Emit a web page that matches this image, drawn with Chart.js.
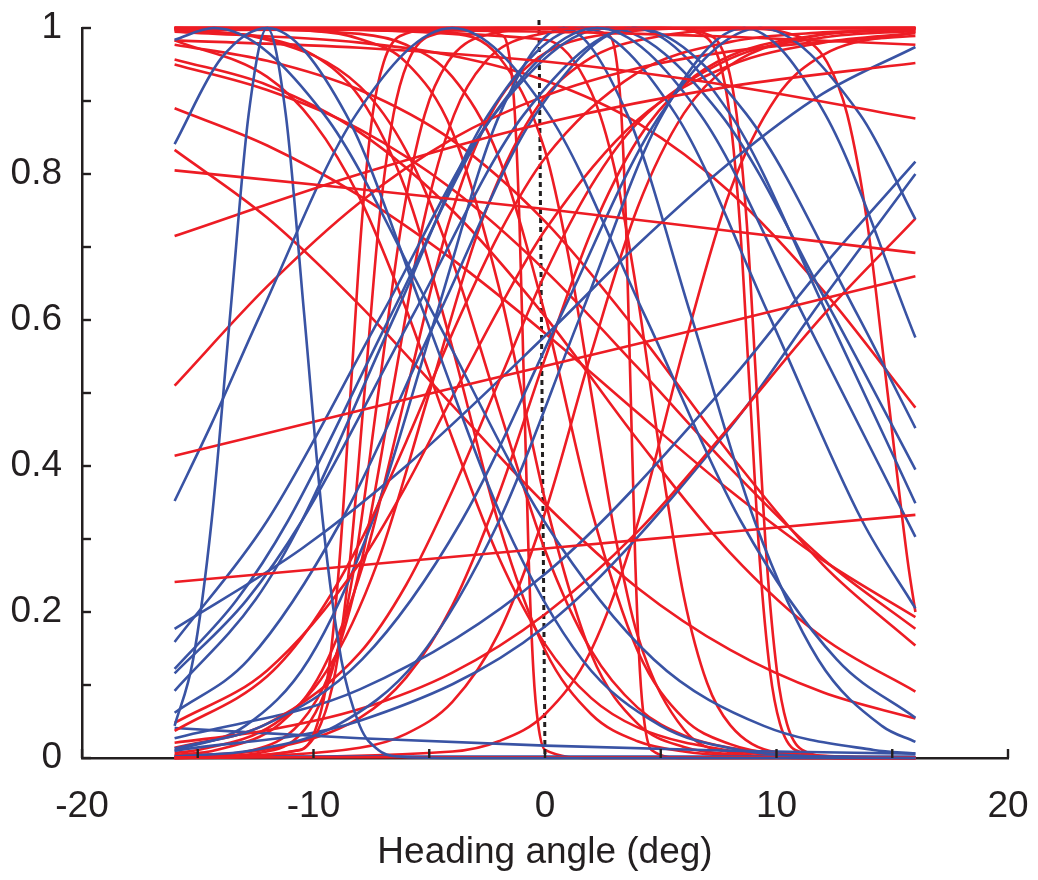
<!DOCTYPE html>
<html>
<head>
<meta charset="utf-8">
<script src="https://cdn.jsdelivr.net/npm/chart.js@4.4.1/dist/chart.umd.min.js"></script>
<style>
  html, body { margin: 0; padding: 0; background: #fff; }
</style>
</head>
<body>
<canvas id="headingChart" width="1038" height="880"></canvas>
<script>
// Tuning curves, [heading angle, response] pairs

// red: nearly straight / very shallow curves
const redDrift = [
  [[-16,0.805],[-8,0.779],[0,0.752],[8,0.722],[16,0.692]],
  [[-16,0.241],[-8,0.264],[0,0.287],[8,0.31],[16,0.333]],
  [[-16,0.414],[-8,0.476],[0,0.537],[8,0.598],[16,0.66]],
  [[-16,0.715],[-8,0.80],[0,0.87],[8,0.92],[16,0.952]],
  [[-16,0.983],[-8,0.973],[0,0.954],[8,0.921],[16,0.876]],
  [[-16,0.997],[0,0.999],[16,1]],
  [[-16,0.999],[0,0.995],[8,0.988],[16,0.977]],
  [[-16,0.001],[16,0.001]]
];

// red: rising sigmoids
const redRise = [
  [[-16,0.51],[-12,0.646],[-8,0.761],[-4,0.848],[0,0.907],[4,0.945],[8,0.968],[12,0.981],[16,0.989]],
  [[-16,0.021],[-12,0.038],[-8,0.067],[-4,0.117],[0,0.197],[4,0.31],[8,0.455],[12,0.606],[16,0.739]],
  [[-16,0.037],[-12,0.112],[-10,0.187],[-8,0.295],[-6,0.433],[-4,0.582],[-2,0.717],[0,0.822],[4,0.939],[8,0.981],[12,0.994],[16,0.998]],
  [[-16,0.048],[-12,0.12],[-8,0.267],[-6,0.373],[-4,0.495],[-2,0.615],[0,0.723],[4,0.874],[8,0.949],[12,0.98],[16,0.993]],
  [[-16,0.014],[-12,0.047],[-8,0.144],[-6,0.237],[-4,0.366],[-2,0.515],[0,0.663],[2,0.784],[4,0.87],[8,0.958],[12,0.987],[16,0.996]],
  [[-16,0],[-10.54,0.011],[-9.83,0.047],[-9.35,0.119],[-8.88,0.269],[-8.4,0.5],[-7.92,0.731],[-7.45,0.881],[-6.97,0.953],[-6.26,0.989],[-4,1],[16,1]],
  [[-16,0],[-10.61,0.011],[-9.68,0.047],[-9.05,0.119],[-8.43,0.269],[-7.8,0.5],[-7.18,0.731],[-6.55,0.881],[-5.93,0.953],[-4.99,0.989],[-2,1],[16,1]],
  [[-16,0],[-11.7,0.011],[-10.2,0.047],[-9.2,0.119],[-8.2,0.269],[-7.2,0.5],[-6.2,0.731],[-5.2,0.881],[-4.2,0.953],[-2.7,0.989],[1,1],[16,1]],
  [[-16,0.001],[-12.6,0.011],[-10.6,0.047],[-9.27,0.119],[-7.93,0.269],[-6.6,0.5],[-5.27,0.731],[-3.93,0.881],[-2.6,0.953],[-0.6,0.989],[4,1],[16,1]],
  [[-16,0.004],[-14.2,0.011],[-11.45,0.047],[-9.64,0.119],[-7.82,0.269],[-6,0.5],[-4.18,0.731],[-2.36,0.881],[-0.55,0.953],[2.18,0.989],[8,1],[16,1]],
  [[-16,0.007],[-15,0.011],[-11.67,0.047],[-9.44,0.119],[-7.22,0.269],[-5,0.5],[-2.78,0.731],[-0.56,0.881],[1.67,0.953],[5,0.989],[10,0.999],[16,1]],
  [[-16,0.003],[-12,0.012],[-8,0.055],[-6,0.11],[-4,0.209],[-2,0.361],[0,0.547],[2,0.721],[4,0.847],[6,0.922],[8,0.962],[12,0.991],[16,0.997]],
  [[-16,0],[-8,0.014],[-6,0.033],[-4,0.077],[-2,0.171],[0,0.336],[2,0.555],[4,0.754],[6,0.883],[8,0.949],[12,0.991],[16,0.999]],
  [[-16,0],[-4,0.009],[-2,0.023],[0,0.06],[2,0.148],[4,0.321],[6,0.562],[8,0.777],[10,0.905],[12,0.963],[16,0.995]]
];

// red: falling sigmoids
const redFall = [
  [[-16,0.833],[-12,0.74],[-8,0.62],[-4,0.483],[0,0.348],[4,0.233],[8,0.148],[12,0.09],[16,0.054]],
  [[-16,0.89],[-12,0.839],[-8,0.77],[-4,0.683],[0,0.582],[4,0.473],[8,0.366],[12,0.271],[16,0.193]],
  [[-16,1],[-4,1],[-1.8,0.989],[-1.5,0.953],[-1.3,0.881],[-1.1,0.731],[-0.9,0.5],[-0.7,0.269],[-0.5,0.119],[-0.3,0.047],[0,0.011],[2,0],[16,0]],
  [[-16,1],[1,1],[2.8,0.989],[3.1,0.953],[3.3,0.881],[3.5,0.731],[3.7,0.5],[3.9,0.269],[4.1,0.119],[4.3,0.047],[4.6,0.011],[6,0],[16,0]],
  [[-16,1],[5,1],[6.89,0.989],[7.55,0.953],[7.98,0.881],[8.42,0.731],[8.85,0.5],[9.28,0.269],[9.72,0.119],[10.15,0.047],[10.81,0.011],[13,0],[16,0]],
  [[-16,1],[5,1],[7.19,0.989],[7.85,0.953],[8.28,0.881],[8.72,0.731],[9.15,0.5],[9.58,0.269],[10.02,0.119],[10.45,0.047],[11.11,0.011],[13,0],[16,0]],
  [[-16,1],[8,1],[10.89,0.989],[12.19,0.953],[13.06,0.881],[13.93,0.731],[14.8,0.5],[15.67,0.269],[16,0.2]],
  [[-16,0.995],[-8,0.98],[-4,0.962],[0,0.928],[4,0.87],[8,0.775],[12,0.641],[16,0.48]],
  [[-16,0.977],[-12,0.955],[-8,0.915],[-4,0.846],[0,0.735],[4,0.584],[8,0.416],[12,0.265],[16,0.154]],
  [[-16,0.95],[-12,0.915],[-8,0.861],[-4,0.779],[0,0.668],[4,0.535],[8,0.397],[12,0.273],[16,0.177]],
  [[-16,0.957],[-12,0.922],[-8,0.857],[-4,0.75],[0,0.605],[4,0.436],[8,0.281],[12,0.165],[16,0.091]],
  [[-16,0.983],[-12,0.933],[-10,0.871],[-8,0.767],[-6,0.615],[-4,0.438],[-2,0.275],[0,0.156],[2,0.082],[4,0.042],[8,0.01],[12,0.002],[16,0]],
  [[-16,0.998],[-12,0.986],[-10,0.963],[-8,0.905],[-6,0.777],[-4,0.562],[-2,0.321],[0,0.148],[2,0.06],[4,0.023],[6,0.009],[10,0.001],[16,0]],
  [[-16,0.997],[-12,0.984],[-8,0.92],[-6,0.832],[-4,0.681],[-2,0.48],[0,0.285],[2,0.147],[4,0.069],[6,0.031],[8,0.014],[12,0.003],[16,0]],
  [[-16,1],[-10,0.996],[-8,0.985],[-6,0.953],[-4,0.858],[-2,0.646],[0,0.354],[2,0.142],[4,0.047],[6,0.015],[8,0.005],[12,0],[16,0]],
  [[-16,1],[-8,0.992],[-6,0.977],[-4,0.933],[-2,0.823],[0,0.608],[2,0.341],[4,0.147],[6,0.054],[8,0.019],[10,0.006],[16,0]],
  [[-16,1],[-4,0.992],[-2,0.961],[0,0.832],[1,0.69],[2,0.5],[3,0.31],[4,0.168],[6,0.039],[8,0.008],[12,0],[16,0]],
  [[-16,1],[0,0.984],[2,0.912],[3,0.808],[4,0.632],[5,0.411],[6,0.221],[7,0.103],[8,0.045],[10,0.008],[16,0]]
];

// blue: bell-shaped tuning curves
const blueBumps = [
  [[-16,0.044],[-15.2,0.135],[-14.4,0.325],[-13.6,0.607],[-12.8,0.882],[-12,1],[-11.2,0.882],[-10.4,0.607],[-9.6,0.325],[-8.8,0.135],[-8,0.044],[-7.2,0.011],[-6.4,0.002],[-4,0],[16,0]],
  [[-16,0.841],[-14,0.958],[-12,1],[-8.6,0.882],[-5.2,0.607],[-1.8,0.325],[1.6,0.135],[5,0.044],[8.4,0.011],[11.8,0.002],[16,0]],
  [[-16,0.984],[-14.3,1],[-9.55,0.882],[-4.8,0.607],[-0.05,0.325],[4.7,0.135],[9.45,0.044],[14.2,0.011],[16,0.006]],
  [[-16,0.352],[-14.4,0.458],[-12.3,0.607],[-8.15,0.882],[-4,1],[0.15,0.882],[4.3,0.607],[8.45,0.325],[12.6,0.135],[16,0.055]],
  [[-16,0.122],[-13.33,0.216],[-11.1,0.325],[-6.65,0.607],[-2.2,0.882],[2.25,1],[6.7,0.882],[11.15,0.607],[16,0.303]],
  [[-16,0.116],[-12.9,0.216],[-10.5,0.325],[-5.7,0.607],[-0.9,0.882],[3.9,1],[8.7,0.882],[13.5,0.607],[16,0.452]],
  [[-16,0.013],[-12.2,0.044],[-7.9,0.135],[-3.6,0.325],[0.7,0.607],[5,0.882],[9.3,1],[13.6,0.882],[16,0.738]],
  [[-16,0.002],[-12.55,0.011],[-9.03,0.044],[-5.5,0.135],[-1.98,0.325],[1.55,0.607],[5.08,0.882],[8.6,1],[12.1,0.882],[16,0.576]],
  [[-16,0.159],[-12,0.325],[-7.06,0.607],[-2.18,0.882],[2.7,1],[7.58,0.882],[12.46,0.607],[16,0.395]],
  [[-16,0.092],[-12.5,0.217],[-10.5,0.325],[-6.47,0.607],[-2.44,0.882],[1.6,1],[5.64,0.882],[9.67,0.607],[13.7,0.325],[16,0.205]],
  [[-16,0.062],[-12.8,0.135],[-8.8,0.325],[-4.6,0.607],[-0.4,0.882],[3.8,1],[8,0.882],[12.2,0.607],[16,0.349]],
  [[-16,0.01],[-12.95,0.044],[-10.2,0.135],[-7.45,0.325],[-4.7,0.607],[-1.95,0.882],[0.8,1],[3.55,0.882],[6.3,0.607],[9.05,0.325],[11.8,0.135],[14.55,0.044],[16,0.022]]
];

// blue: broad curves that only show one flank, plus the flat ones near zero
const blueFlanks = [
  [[-16,0.177],[-10.5,0.287],[-6,0.4],[0,0.578],[4,0.703],[8,0.816],[12,0.91],[16,0.974]],
  [[-16,0.027],[-8,0.094],[0,0.252],[8,0.517],[12,0.673],[16,0.817]],
  [[-16,0.01],[-8,0.051],[0,0.18],[8,0.453],[12,0.629],[16,0.8]],
  [[-16,0.041],[-8,0.027],[0,0.017],[8,0.01],[16,0.006]],
  [[-16,0.002],[16,0.002]]
];

// dotted marker at straight ahead
const aheadLine = [[-0.26,1.011],[0,0]];

const xTickMarks = [-20,-15,-10,-5,0,5,10,15,20];
const yTickMarks = [0,0.1,0.2,0.3,0.4,0.5,0.6,0.7,0.8,0.9,1];

const RED = '#ED1C24';
const BLUE = '#3953A4';
const INK = '#231F20';
const FONT = "'Liberation Sans', Arial, Helvetica, sans-serif";

function curveSet(points, color) {
    return {
        data: points.map(p => ({ x: p[0], y: p[1] })),
        showLine: true,
        borderColor: color,
        borderWidth: 2.6,
        pointRadius: 0,
        cubicInterpolationMode: 'monotone',
        fill: false,
        clip: false
    };
}

// mix red and blue so neither colour sits entirely on top
const reds = redDrift.concat(redRise, redFall);
const blues = blueBumps.concat(blueFlanks);
const datasets = [];
for (let i = 0; i < Math.max(reds.length, blues.length); i++) {
    if (reds[i]) datasets.push(curveSet(reds[i], RED));
    if (blues[i]) datasets.push(curveSet(blues[i], BLUE));
}
datasets.push({
    data: aheadLine.map(p => ({ x: p[0], y: p[1] })),
    showLine: true,
    borderColor: INK,
    borderWidth: 3,
    borderDash: [5, 4],
    pointRadius: 0,
    tension: 0,
    clip: false
});

// tick marks point into the plot, like the original
const insideTicks = {
    id: 'insideTicks',
    afterDatasetsDraw(chart) {
        const { ctx, scales: { x, y } } = chart;
        ctx.save();
        ctx.strokeStyle = INK;
        ctx.lineWidth = 2.4;
        xTickMarks.forEach(v => {
            const px = x.getPixelForValue(v);
            ctx.beginPath();
            ctx.moveTo(px, y.bottom);
            ctx.lineTo(px, y.bottom - 9);
            ctx.stroke();
        });
        yTickMarks.forEach(v => {
            const py = y.getPixelForValue(v);
            ctx.beginPath();
            ctx.moveTo(x.left, py);
            ctx.lineTo(x.left + 9, py);
            ctx.stroke();
        });
        ctx.restore();
    }
};

const ctx = document.getElementById('headingChart').getContext('2d');
new Chart(ctx, {
    type: 'scatter',
    data: { datasets: datasets },
    options: {
        responsive: false,
        animation: false,
        layout: { padding: { left: 0, right: 30, top: 28, bottom: 0 } },
        plugins: { legend: { display: false }, tooltip: { enabled: false } },
        scales: {
            x: {
                type: 'linear',
                min: -20,
                max: 20,
                afterFit: (scale) => {
                    scale.height = 122;
                    scale.paddingLeft = 0;
                    scale.paddingRight = 0;
                },
                grid: { display: false, drawTicks: false },
                border: { color: INK, width: 2.5 },
                ticks: {
                    stepSize: 10,
                    padding: 27,
                    color: INK,
                    maxRotation: 0,
                    autoSkip: false,
                    font: { family: FONT, size: 37 }
                },
                title: {
                    display: true,
                    text: 'Heading angle (deg)',
                    color: INK,
                    font: { family: FONT, size: 37 },
                    padding: { top: 0, bottom: 5 }
                }
            },
            y: {
                type: 'linear',
                min: 0,
                max: 1,
                afterFit: (scale) => {
                    scale.width = 82;
                    scale.paddingTop = 0;
                    scale.paddingBottom = 0;
                },
                grid: { display: false, drawTicks: false },
                border: { color: INK, width: 2.5 },
                ticks: {
                    stepSize: 0.2,
                    padding: 20,
                    color: INK,
                    font: { family: FONT, size: 37 },
                    callback: (v) => String(parseFloat(v.toFixed(1)))
                }
            }
        }
    },
    plugins: [insideTicks]
});
</script>
</body>
</html>
